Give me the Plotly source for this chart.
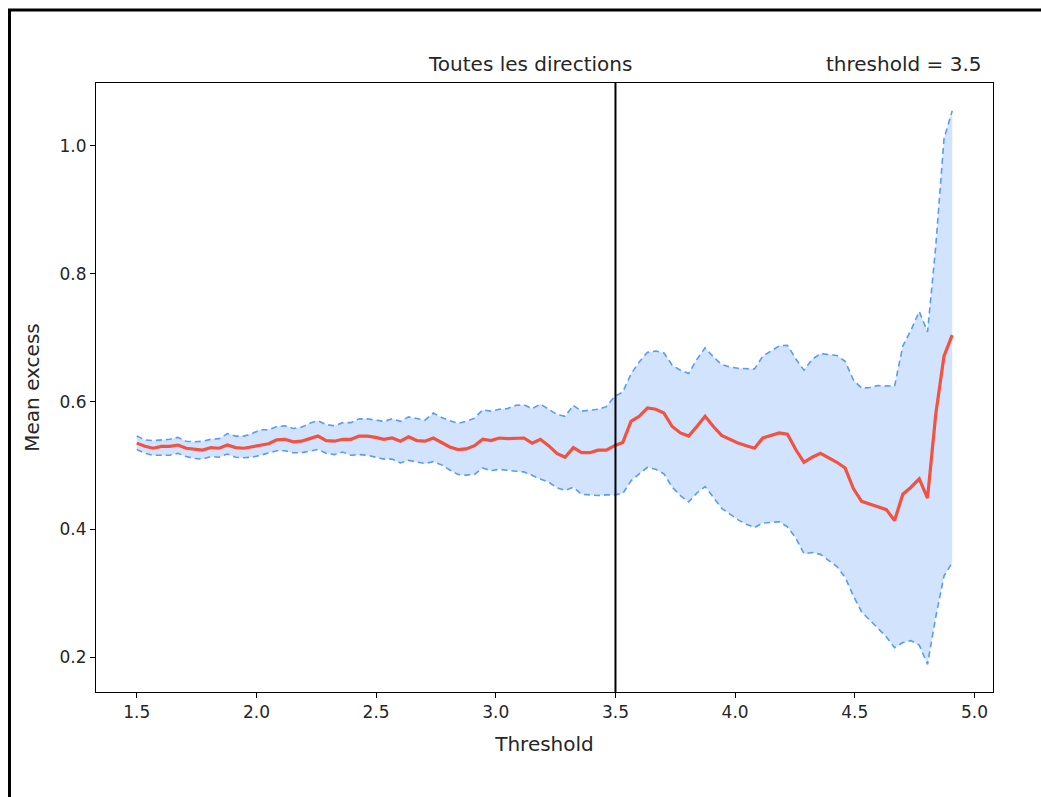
import numpy as np
import plotly.graph_objects as go

# ---- data ----
x_start, x_end, n_pts = 1.5, 4.907, 100
threshold = np.linspace(x_start, x_end, n_pts)

mean_excess = [
    0.535, 0.530, 0.527, 0.530, 0.530, 0.532, 0.527, 0.525, 0.524, 0.528,
    0.527, 0.532, 0.528, 0.527, 0.529, 0.531, 0.534, 0.540, 0.541, 0.537,
    0.538, 0.542, 0.546, 0.539, 0.538, 0.541, 0.541, 0.546, 0.546, 0.544,
    0.541, 0.543, 0.538, 0.545, 0.539, 0.538, 0.543, 0.536, 0.529, 0.525,
    0.526, 0.531, 0.541, 0.539, 0.543, 0.542, 0.543, 0.543, 0.535, 0.541,
    0.531, 0.519, 0.513, 0.528, 0.520, 0.520, 0.524, 0.524, 0.531, 0.536,
    0.569, 0.577, 0.590, 0.588, 0.582, 0.561, 0.551, 0.546, 0.561, 0.577,
    0.561, 0.547, 0.541, 0.535, 0.531, 0.527, 0.543, 0.547, 0.551, 0.549,
    0.525, 0.505, 0.513, 0.519, 0.512, 0.505, 0.496, 0.464, 0.444, 0.440,
    0.435, 0.431, 0.414, 0.455, 0.466, 0.479, 0.449, 0.580, 0.671, 0.704,
]

upper_ci = [
    0.546, 0.540, 0.539, 0.540, 0.541, 0.544, 0.538, 0.537, 0.538, 0.541,
    0.542, 0.550, 0.546, 0.546, 0.550, 0.556, 0.556, 0.561, 0.562, 0.558,
    0.560, 0.566, 0.570, 0.564, 0.562, 0.567, 0.567, 0.573, 0.573, 0.571,
    0.569, 0.573, 0.569, 0.576, 0.573, 0.571, 0.582, 0.575, 0.570, 0.566,
    0.569, 0.574, 0.587, 0.585, 0.588, 0.589, 0.594, 0.595, 0.589, 0.596,
    0.588, 0.580, 0.577, 0.594, 0.585, 0.586, 0.588, 0.592, 0.608, 0.615,
    0.643, 0.662, 0.677, 0.679, 0.676, 0.657, 0.649, 0.644, 0.666, 0.684,
    0.670, 0.658, 0.654, 0.652, 0.651, 0.651, 0.671, 0.679, 0.687, 0.688,
    0.667, 0.649, 0.666, 0.675, 0.674, 0.672, 0.663, 0.634, 0.621, 0.622,
    0.625, 0.624, 0.624, 0.687, 0.712, 0.741, 0.709, 0.843, 1.011, 1.055,
]

lower_ci = [
    0.525, 0.519, 0.516, 0.516, 0.516, 0.519, 0.514, 0.511, 0.510, 0.514,
    0.513, 0.518, 0.513, 0.512, 0.513, 0.516, 0.519, 0.523, 0.523, 0.520,
    0.520, 0.523, 0.525, 0.519, 0.517, 0.521, 0.516, 0.517, 0.516, 0.513,
    0.510, 0.510, 0.504, 0.508, 0.505, 0.503, 0.506, 0.501, 0.493, 0.486,
    0.485, 0.486, 0.496, 0.492, 0.494, 0.492, 0.491, 0.490, 0.484, 0.479,
    0.474, 0.465, 0.461, 0.466, 0.455, 0.454, 0.453, 0.454, 0.454, 0.456,
    0.476, 0.487, 0.497, 0.494, 0.487, 0.466, 0.453, 0.443, 0.457, 0.467,
    0.450, 0.433, 0.424, 0.415, 0.408, 0.403, 0.410, 0.411, 0.412, 0.404,
    0.387, 0.362, 0.364, 0.361, 0.352, 0.342, 0.325, 0.296, 0.271, 0.258,
    0.245, 0.232, 0.215, 0.223, 0.226, 0.219, 0.189, 0.263, 0.327, 0.348,
]

chosen_threshold = 3.5
x_ticks = [1.5, 2.0, 2.5, 3.0, 3.5, 4.0, 4.5, 5.0]
y_ticks = [0.2, 0.4, 0.6, 0.8, 1.0]
title_text = "Toutes les directions"
right_title = "threshold = 3.5"
x_label = "Threshold"
y_label = "Mean excess"

# ---- style ----
FONT = "DejaVu Sans"
TXT = "#262626"
FILL = "#d2e3fd"
BAND = "#5a9cf5"
MEAN = "#f2523f"

W, H = 1041, 797
L, R, T, B = 96, 48, 83, 105
pw, ph = W - L - R, H - T - B


def px(xp):
    return (xp - L) / pw


def py(yp):
    return (H - B - yp) / ph


fig = go.Figure()

fig.add_trace(go.Scatter(x=threshold, y=lower_ci, mode="lines",
                         line=dict(width=0), hoverinfo="skip", showlegend=False))
fig.add_trace(go.Scatter(x=threshold, y=upper_ci, mode="lines", fill="tonexty",
                         fillcolor=FILL, line=dict(width=0),
                         hoverinfo="skip", showlegend=False))
fig.add_trace(go.Scatter(x=threshold, y=upper_ci, mode="lines",
                         line=dict(color=BAND, width=1.6, dash="6px,4px"),
                         showlegend=False))
fig.add_trace(go.Scatter(x=threshold, y=lower_ci, mode="lines",
                         line=dict(color=BAND, width=1.6, dash="6px,4px"),
                         showlegend=False))
fig.add_trace(go.Scatter(x=threshold, y=mean_excess, mode="lines",
                         line=dict(color=MEAN, width=3.2), showlegend=False))

fig.add_shape(type="line", xref="x", yref="paper", x0=chosen_threshold,
              x1=chosen_threshold, y0=0, y1=1, line=dict(color="black", width=2))

# outer black frame (left and top edges visible)
fig.add_shape(type="line", xref="paper", yref="paper", x0=px(9.5), x1=px(9.5),
              y0=py(10), y1=py(830), line=dict(color="black", width=3))
fig.add_shape(type="line", xref="paper", yref="paper", x0=px(8), x1=px(1080),
              y0=py(10), y1=py(10), line=dict(color="black", width=3))

fig.add_annotation(text=title_text, xref="paper", yref="paper",
                   x=px(529.5), y=py(64), xanchor="center", yanchor="middle",
                   showarrow=False, font=dict(family=FONT, size=20, color=TXT))
fig.add_annotation(text=right_title, xref="paper", yref="paper",
                   x=px(983), y=py(64), xanchor="right", yanchor="middle",
                   showarrow=False, font=dict(family=FONT, size=20, color=TXT))

xr0 = x_start - 0.05 * (x_end - x_start)
xr1 = x_end + 0.05 * (x_end - x_start)
ymin, ymax = min(lower_ci), max(upper_ci)
yr0 = ymin - 0.05 * (ymax - ymin)
yr1 = ymax + 0.05 * (ymax - ymin)

axis_common = dict(showgrid=False, zeroline=False, showline=True, mirror=True,
                   linecolor="black", linewidth=1, ticks="outside", ticklen=5,
                   tickwidth=1, tickcolor="black",
                   tickfont=dict(family=FONT, size=17, color=TXT))

fig.update_xaxes(range=[xr0, xr1], tickvals=x_ticks,
                 ticktext=[f"{v:.1f}" for v in x_ticks],
                 title=dict(text=x_label, font=dict(family=FONT, size=20, color=TXT),
                            standoff=15),
                 **axis_common)
fig.update_yaxes(range=[yr0, yr1], tickvals=y_ticks,
                 ticktext=[f"{v:.1f}" for v in y_ticks],
                 title=dict(text=y_label, font=dict(family=FONT, size=20, color=TXT),
                            standoff=14),
                 **axis_common)

fig.update_layout(width=W, height=H, margin=dict(l=L, r=R, t=T, b=B),
                  paper_bgcolor="white", plot_bgcolor="white",
                  font=dict(family=FONT, color=TXT), showlegend=False)

fig.write_html("out.html")
